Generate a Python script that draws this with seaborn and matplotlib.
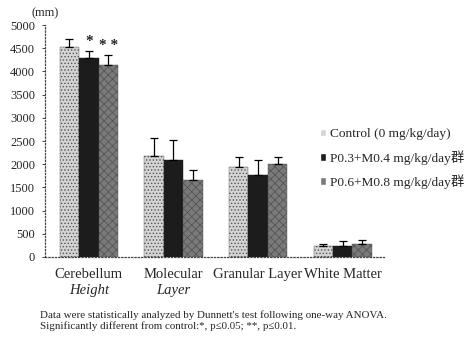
import pandas as pd
import matplotlib.pyplot as plt
import seaborn as sns

# values (mm)
regions = ['Cerebellum', 'Molecular', 'Granular Layer', 'White Matter']
sublines = ['Height', 'Layer', '', '']
groups = ['Control (0 mg/kg/day)', 'P0.3+M0.4 mg/kg/day群', 'P0.6+M0.8 mg/kg/day群']
control = [4530, 2170, 1930, 240]
low = [4300, 2085, 1765, 230]
high = [4135, 1655, 2000, 272]
control_sd = [180, 390, 225, 48]
low_sd = [145, 435, 335, 105]
high_sd = [230, 215, 155, 88]
stars = [['', '*', '**'], ['', '', ''], ['', '', ''], ['', '', '']]

df = pd.DataFrame({
    'Region': regions * 3,
    'Group': [g for g in groups for _ in regions],
    'Value': control + low + high,
})
sds = [control_sd, low_sd, high_sd]

sns.set_style('white')
plt.rcParams['font.family'] = ['Liberation Serif', 'Noto Sans CJK JP']
plt.rcParams['hatch.color'] = '#555555'
plt.rcParams['hatch.linewidth'] = 0.6

fig = plt.figure(figsize=(4.72, 3.39), dpi=100)
ax = fig.add_axes([0.095, 0.242, 0.719, 0.684])

colors = ['#d4d4d4', '#1c1c1c', '#7a7a7a']
sns.barplot(data=df, x='Region', y='Value', hue='Group', palette=colors,
            width=0.69, gap=0, ax=ax, saturation=1, legend=True)

hatches = ['.....', '', 'xxxx']
bar_sets = list(ax.containers)
for i, cont in enumerate(bar_sets):
    for j, bar in enumerate(cont):
        bar.set_edgecolor('#555555' if i != 1 else '#1c1c1c')
        bar.set_linewidth(0.3)
        bar.set_hatch(hatches[i])
        xc = bar.get_x() + bar.get_width() / 2
        top = bar.get_height()
        ax.errorbar(xc, top, yerr=[[0], [sds[i][j]]], color='black',
                    capsize=3, elinewidth=0.9, capthick=0.9)
        if stars[j][i]:
            ax.text(xc, top + sds[i][j] + 60, stars[j][i].replace('*', '* ').strip(),
                    ha='center', va='bottom', fontsize=11, fontweight='bold')

ax.set_xlim(-0.52, 3.49)
ax.set_ylim(0, 5000)
ax.set_yticks(range(0, 5001, 500))
ax.tick_params(axis='y', labelsize=9, length=2, width=0.6, direction='out', left=True, pad=5)
ax.tick_params(axis='x', labelsize=10.5, length=0, pad=8)
ax.set_xlabel('')
ax.set_ylabel('')
for s in ['top', 'right']:
    ax.spines[s].set_visible(False)
for s in ['left', 'bottom']:
    ax.spines[s].set_linestyle(':')
    ax.spines[s].set_linewidth(0.9)
    ax.spines[s].set_color('#444444')

for k, sub in enumerate(sublines):
    if sub:
        ax.text(k, -0.116, sub, transform=ax.get_xaxis_transform(), ha='center',
                va='top', fontsize=10.5, style='italic')

ax.text(0.0, 1.025, '(mm)', transform=ax.transAxes, fontsize=9, ha='center', va='bottom')

leg = ax.legend(loc='upper left', bbox_to_anchor=(0.81, 0.555), frameon=False,
                fontsize=9.6, handlelength=0.5, handleheight=0.5, handletextpad=0.3,
                labelspacing=0.72, borderaxespad=0, borderpad=0)
for h in leg.get_patches():
    h.set_hatch('')

fig.text(0.085, 0.071, "Data were statistically analyzed by Dunnett's test following one-way ANOVA.",
         fontsize=7.9, va='center')
fig.text(0.085, 0.038, 'Significantly different from control:*, p≤0.05; **, p≤0.01.',
         fontsize=7.9, va='center')

fig.savefig('out.png', dpi=100)
